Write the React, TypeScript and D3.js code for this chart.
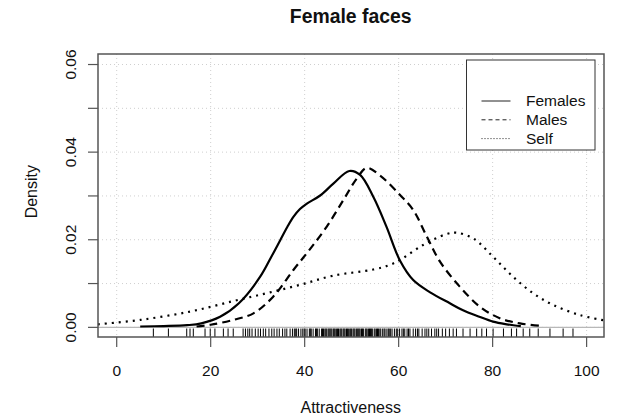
import React from "react";
import * as d3 from "d3";

// kernel density estimates of the attractiveness ratings
const femalesX = [5, 10, 15, 18, 22, 26, 30.5, 33, 34.8, 36.3, 37.6, 39, 40.4, 43.3, 46.1, 49.5, 51.8, 54.6, 57.4, 60.3, 63.1, 66.7, 70.9, 73.7, 77, 80.1, 83, 86];
const femalesY = [0.0002, 0.0003, 0.0005, 0.0009, 0.0024, 0.0055, 0.0115, 0.0163, 0.0199, 0.0229, 0.0252, 0.027, 0.0282, 0.0301, 0.0328, 0.0357, 0.0348, 0.0298, 0.023, 0.0152, 0.0108, 0.008, 0.0055, 0.0039, 0.0025, 0.0013, 0.0007, 0.0003];

const malesX = [17, 20, 24.8, 29.1, 33.3, 37.6, 41.1, 44.7, 48.2, 51.1, 53.2, 56, 60.3, 63.1, 66, 68.8, 73, 77.3, 81.5, 85.8, 90.8];
const malesY = [0.0002, 0.0006, 0.0017, 0.0032, 0.007, 0.0131, 0.0178, 0.023, 0.029, 0.034, 0.0364, 0.0347, 0.0302, 0.0268, 0.0207, 0.015, 0.0093, 0.0047, 0.0021, 0.0009, 0.0003];

const selfX = [-4, 5, 15.6, 24.8, 31.9, 39, 46.1, 54.6, 58, 60.3, 65.2, 70.2, 72.3, 75.9, 80.1, 84.4, 88.6, 92.9, 98.6, 103.7];
const selfY = [0.0007, 0.0017, 0.0036, 0.006, 0.0078, 0.0097, 0.0118, 0.0132, 0.0142, 0.0154, 0.0188, 0.0213, 0.0216, 0.0203, 0.0161, 0.0115, 0.0078, 0.0051, 0.0028, 0.0016];

// individual face ratings shown as a rug
const ratings = [
  7.8, 11.0, 14.9, 15.6, 16.3, 18.8, 19.9, 20.9, 22.7, 23.7, 24.8,
  26.9, 27.4, 27.9, 28.3, 28.8, 29.5, 30.1, 30.6, 31.2, 31.7, 32.4, 33.0, 33.5, 34.1, 34.6, 35.3, 35.8, 36.2, 36.9, 37.4,
  37.8, 38.3, 38.7, 39.2, 39.6, 40.1, 40.5, 41.0, 41.4, 41.8, 42.3, 42.7, 43.1, 43.6, 44.0, 44.3, 44.7, 45.0, 45.4, 45.8,
  46.1, 46.5, 46.8, 47.2, 47.5, 47.9, 48.2, 48.6, 48.9, 49.3, 49.6, 50.0, 50.3, 50.7, 51.0, 51.4, 51.8, 52.1, 52.5, 52.9,
  53.3, 53.6, 54.0, 54.4, 54.8, 55.3, 55.7, 56.2, 56.6, 57.1, 57.5, 58.0, 58.6, 59.1, 59.5, 60.2, 60.7, 61.3, 61.8, 62.4,
  63.1, 63.6, 64.3, 65.0, 65.6, 66.4, 67.0, 67.7, 68.5, 69.3, 70.0, 70.8, 71.6, 72.3,
  38.1, 39.9, 41.2, 42.5, 43.8, 44.5, 45.2, 45.6, 46.3, 47.0, 47.7, 48.4, 49.1, 49.8, 50.5, 51.2, 51.6, 52.3, 53.1, 53.8,
  54.2, 55.0, 55.5, 56.0, 56.9, 57.8, 58.3, 59.8, 61.0, 62.1, 64.0, 66.0, 68.1,
  73.7, 75.2, 76.6, 77.7, 78.7, 80.1, 82.3, 84.0, 85.1, 86.5, 87.9, 89.7, 92.2, 95.0, 97.1,
];

const xTicks = [0, 20, 40, 60, 80, 100];
const yTicks = [0, 0.01, 0.02, 0.03, 0.04, 0.05, 0.06];
const yLabels = ["0.00", "", "0.02", "", "0.04", "", "0.06"];

const legendNames = ["Females", "Males", "Self"];

const W = 628;
const H = 418;
const box = { left: 98, right: 604, top: 54, bottom: 337 };
const font = "Liberation Sans, Arial, sans-serif";

const App = () => {
  const x = d3.scaleLinear().domain([-3.98, 103.7]).range([box.left, box.right]);
  const y = d3.scaleLinear().domain([-0.0022, 0.0624]).range([box.bottom, box.top]);

  const line = d3
    .line<[number, number]>()
    .x((d) => x(d[0]))
    .y((d) => y(d[1]))
    .curve(d3.curveCatmullRom.alpha(0.5));

  const series = [
    { xs: femalesX, ys: femalesY, dash: null, legendDash: null },
    { xs: malesX, ys: malesY, dash: "8,5", legendDash: "4,3" },
    { xs: selfX, ys: selfY, dash: "2,5", legendDash: "1,2" },
  ];

  return (
    <svg width={W} height={H} style={{ position: "absolute", left: 0, top: 0, background: "#fff" }}>
      <defs>
        <clipPath id="plot-clip">
          <rect x={box.left} y={box.top} width={box.right - box.left} height={box.bottom - box.top} />
        </clipPath>
      </defs>

      {/* grid */}
      <g stroke="#cfcfcf" strokeWidth="1" strokeDasharray="1,3">
        {xTicks.map((t) => (
          <line key={"gx" + t} x1={x(t)} x2={x(t)} y1={box.top} y2={box.bottom} />
        ))}
        {yTicks.map((t) => (
          <line key={"gy" + t} x1={box.left} x2={box.right} y1={y(t)} y2={y(t)} />
        ))}
      </g>

      {/* zero line */}
      <line x1={box.left} x2={box.right} y1={y(0)} y2={y(0)} stroke="#b8b8b8" strokeWidth="1.2" />

      {/* rug */}
      <g stroke="#000" strokeWidth="1">
        {ratings.map((r, i) => (
          <line key={i} x1={x(r)} x2={x(r)} y1={box.bottom} y2={box.bottom - 8.5} />
        ))}
      </g>

      {/* density curves */}
      <g clipPath="url(#plot-clip)" fill="none" stroke="#000" strokeWidth="2.2">
        {series.map((s, i) => (
          <path
            key={i}
            d={line(s.xs.map((v, j) => [v, s.ys[j]] as [number, number])) || ""}
            strokeDasharray={s.dash || undefined}
          />
        ))}
      </g>

      {/* legend */}
      <rect x={466.5} y={60} width={128.5} height={90} fill="#fff" stroke="#333" strokeWidth="1" />
      {legendNames.map((name, i) => {
        const ly = 101 + i * 18.8;
        return (
          <g key={name}>
            <line
              x1={481.5}
              x2={510.5}
              y1={ly}
              y2={ly}
              stroke="#222"
              strokeWidth="1"
              strokeDasharray={series[i].legendDash || undefined}
            />
            <text x={526} y={ly + 5.3} fontFamily={font} fontSize="15.5" fill="#111">
              {name}
            </text>
          </g>
        );
      })}

      {/* plot box */}
      <rect
        x={box.left}
        y={box.top}
        width={box.right - box.left}
        height={box.bottom - box.top}
        fill="none"
        stroke="#555"
        strokeWidth="1.5"
      />

      {/* x axis */}
      <g stroke="#555" strokeWidth="1.2">
        {xTicks.map((t) => (
          <line key={"tx" + t} x1={x(t)} x2={x(t)} y1={box.bottom} y2={box.bottom + 10} />
        ))}
      </g>
      {xTicks.map((t) => (
        <text key={"lx" + t} x={x(t)} y={376} textAnchor="middle" fontFamily={font} fontSize="15.5" fill="#111">
          {t}
        </text>
      ))}

      {/* y axis */}
      <g stroke="#555" strokeWidth="1.2">
        {yTicks.map((t) => (
          <line key={"ty" + t} x1={box.left - 10} x2={box.left} y1={y(t)} y2={y(t)} />
        ))}
      </g>
      {yTicks.map((t, i) =>
        yLabels[i] ? (
          <text
            key={"ly" + t}
            transform={`translate(76,${y(t)}) rotate(-90)`}
            textAnchor="middle"
            fontFamily={font}
            fontSize="15.5"
            fill="#111"
          >
            {yLabels[i]}
          </text>
        ) : null
      )}

      {/* titles */}
      <text x={350.7} y={23} textAnchor="middle" fontFamily={font} fontSize="19.4" fontWeight="bold" fill="#111">
        Female faces
      </text>
      <text x={350.7} y={412.7} textAnchor="middle" fontFamily={font} fontSize="16" fill="#111">
        Attractiveness
      </text>
      <text
        transform={`translate(36.5,191.7) rotate(-90)`}
        textAnchor="middle"
        fontFamily={font}
        fontSize="16"
        fill="#111"
      >
        Density
      </text>
    </svg>
  );
};

export default App;
